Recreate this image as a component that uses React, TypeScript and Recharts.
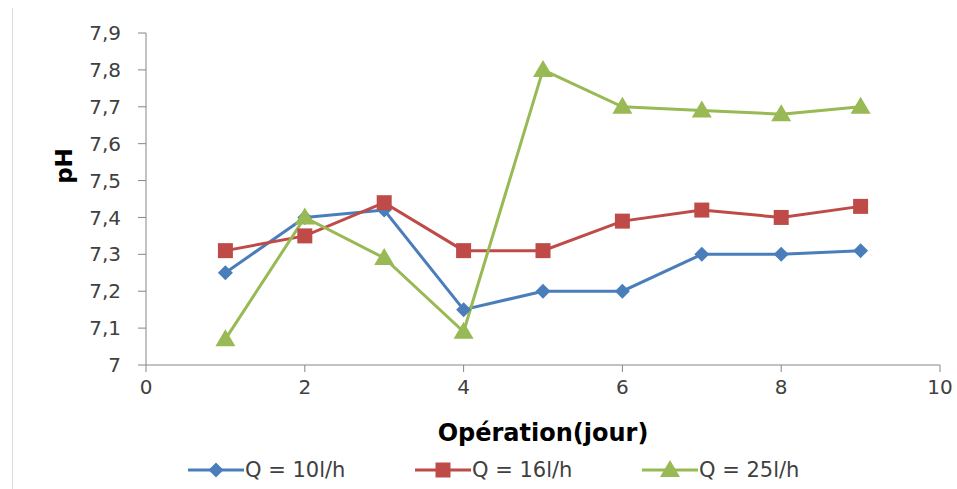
import React from 'react';
import { LineChart, Line, XAxis, YAxis, Legend } from 'recharts';

// pH readings per day of operation, one array per flow rate
const days = [1, 2, 3, 4, 5, 6, 7, 8, 9];
const phQ10 = [7.25, 7.4, 7.42, 7.15, 7.2, 7.2, 7.3, 7.3, 7.31];
const phQ16 = [7.31, 7.35, 7.44, 7.31, 7.31, 7.39, 7.42, 7.4, 7.43];
const phQ25 = [7.07, 7.4, 7.29, 7.09, 7.8, 7.7, 7.69, 7.68, 7.7];

const xTicks = [0, 2, 4, 6, 8, 10];
const yTicks = [7, 7.1, 7.2, 7.3, 7.4, 7.5, 7.6, 7.7, 7.8, 7.9];

const seriesNames = ['Q = 10l/h', 'Q = 16l/h', 'Q = 25l/h'];

const BLUE = '#4A7EBB';
const RED = '#BE4B48';
const GREEN = '#98B954';
const AXIS = '#868686';
const FONT = '"DejaVu Sans", sans-serif';

const rows = days.map((d, i) => ({
  day: d,
  q10: phQ10[i],
  q16: phQ16[i],
  q25: phQ25[i],
}));

type Shape = 'diamond' | 'square' | 'triangle';

const markerPath = (shape: Shape, cx: number, cy: number) => {
  if (shape === 'diamond') {
    const r = 7.5;
    return `M${cx},${cy - r}L${cx + r},${cy}L${cx},${cy + r}L${cx - r},${cy}Z`;
  }
  if (shape === 'square') {
    const r = 7.5;
    return `M${cx - r},${cy - r}H${cx + r}V${cy + r}H${cx - r}Z`;
  }
  return `M${cx},${cy - 10}L${cx + 10},${cy + 7}L${cx - 10},${cy + 7}Z`;
};

const makeDot = (shape: Shape, color: string) => (props: any) => {
  const { cx, cy, index } = props;
  if (cx == null || cy == null) return <g key={index} />;
  return <path key={index} d={markerPath(shape, cx, cy)} fill={color} />;
};

const legendItems: { name: string; color: string; shape: Shape }[] = [
  { name: seriesNames[0], color: BLUE, shape: 'diamond' },
  { name: seriesNames[1], color: RED, shape: 'square' },
  { name: seriesNames[2], color: GREEN, shape: 'triangle' },
];

const LegendContent = () => (
  <div
    style={{
      display: 'flex',
      paddingLeft: 188,
      paddingTop: 8,
      fontFamily: FONT,
      fontSize: 21,
      color: '#404040',
    }}
  >
    {legendItems.map((it) => (
      <div key={it.name} style={{ display: 'flex', alignItems: 'center', width: 227, height: 26 }}>
        <svg width={56} height={22}>
          <line x1={0} y1={11} x2={56} y2={11} stroke={it.color} strokeWidth={3} />
          <path d={markerPath(it.shape, 28, 11)} fill={it.color} />
        </svg>
        <span style={{ marginLeft: 1, lineHeight: '26px' }}>{it.name}</span>
      </div>
    ))}
  </div>
);

const YLabel = (props: any) => {
  const { viewBox } = props;
  const x = viewBox.x + 64;
  const y = viewBox.y + viewBox.height / 2 - 33;
  return (
    <text
      x={x}
      y={y}
      transform={`rotate(-90, ${x}, ${y})`}
      textAnchor="middle"
      dominantBaseline="central"
      fontFamily={FONT}
      fontSize={23}
      fontWeight="bold"
      fill="#000"
    >
      pH
    </text>
  );
};

const App: React.FC = () => {
  return (
    <div style={{ position: 'absolute', left: 0, top: 0, width: 957, height: 489, background: '#fff' }}>
      <div style={{ position: 'absolute', left: 12, top: 8, width: 1, height: 481, background: '#d9d9d9' }} />
      <LineChart
        width={957}
        height={489}
        data={rows}
        margin={{ top: 33, right: 17, left: 0, bottom: 0 }}
      >
        <XAxis
          dataKey="day"
          type="number"
          domain={[0, 10]}
          ticks={xTicks}
          height={84}
          tickSize={7}
          tickMargin={8}
          stroke={AXIS}
          tick={{ fill: '#404040', fontSize: 20, fontFamily: FONT }}
          label={{
            value: 'Opération(jour)',
            position: 'insideBottom',
            offset: 8,
            fill: '#000',
            fontSize: 24,
            fontWeight: 'bold',
            fontFamily: FONT,
          }}
        />
        <YAxis
          type="number"
          domain={[7, 7.9]}
          ticks={yTicks}
          width={146}
          tickSize={8}
          tickMargin={17}
          stroke={AXIS}
          interval={0}
          tick={{ fill: '#404040', fontSize: 20, fontFamily: FONT }}
          tickFormatter={(v: number) => (Number.isInteger(v) ? String(v) : v.toFixed(1).replace('.', ','))}
          label={<YLabel />}
        />
        <Legend verticalAlign="bottom" height={40} wrapperStyle={{ left: 0, width: 957 }} content={<LegendContent />} />
        <Line
          dataKey="q10"
          name={seriesNames[0]}
          stroke={BLUE}
          strokeWidth={3}
          dot={makeDot('diamond', BLUE)}
          isAnimationActive={false}
        />
        <Line
          dataKey="q16"
          name={seriesNames[1]}
          stroke={RED}
          strokeWidth={3}
          dot={makeDot('square', RED)}
          isAnimationActive={false}
        />
        <Line
          dataKey="q25"
          name={seriesNames[2]}
          stroke={GREEN}
          strokeWidth={3}
          dot={makeDot('triangle', GREEN)}
          isAnimationActive={false}
        />
      </LineChart>
    </div>
  );
};

export default App;
